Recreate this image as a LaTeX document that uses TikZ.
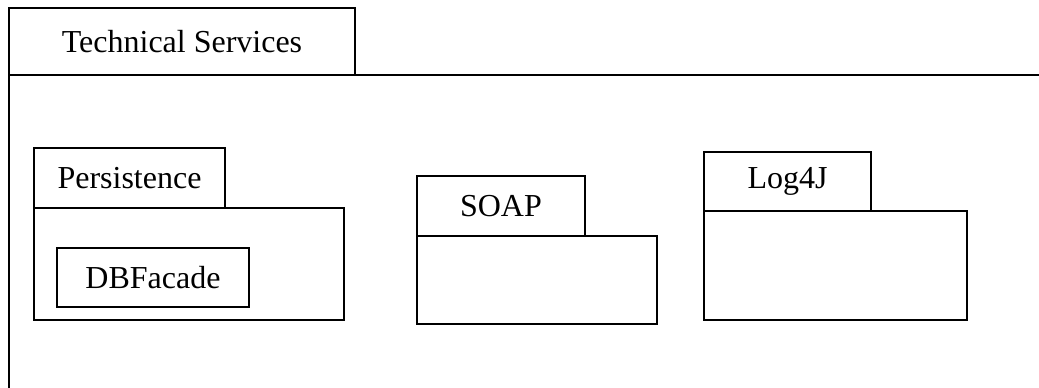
\documentclass[tikz,border=0pt]{standalone}
\usepackage{fontspec}
\setmainfont{Liberation Serif}
\begin{document}
\begin{tikzpicture}[x=1pt,y=-1pt,
  pkg/.style={draw=black, line width=1.8pt, fill=white, inner sep=0pt, outer sep=0pt,
    font=\fontsize{32}{38}\selectfont, anchor=north west},
]
\useasboundingbox (0,0) rectangle (1039,388);
\clip (0,0) rectangle (1039,388);
\fill[white] (0,0) rectangle (1039,388);
% outer package
\node[pkg, minimum width=1060pt, minimum height=340pt] (tsbody) at (9,75) {};
\node[pkg, minimum width=346pt, minimum height=67pt] (tstab) at (9,8) {Technical Services};
% Persistence
\node[pkg, minimum width=310pt, minimum height=112pt] (pbody) at (34,208) {};
\node[pkg, minimum width=191pt, minimum height=60pt] (ptab) at (34,148) {Persistence};
\node[pkg, minimum width=192pt, minimum height=59pt] (db) at (57,248) {DBFacade};
% SOAP
\node[pkg, minimum width=240pt, minimum height=88pt] (sbody) at (417,236) {};
\node[pkg, minimum width=168pt, minimum height=60pt] (stab) at (417,176) {SOAP};
% Log4J
\node[pkg, minimum width=263pt, minimum height=109pt] (lbody) at (704,211) {};
\node[pkg, minimum width=167pt, minimum height=59pt] (ltab) at (704,152) {Log4J};
\end{tikzpicture}
\end{document}
